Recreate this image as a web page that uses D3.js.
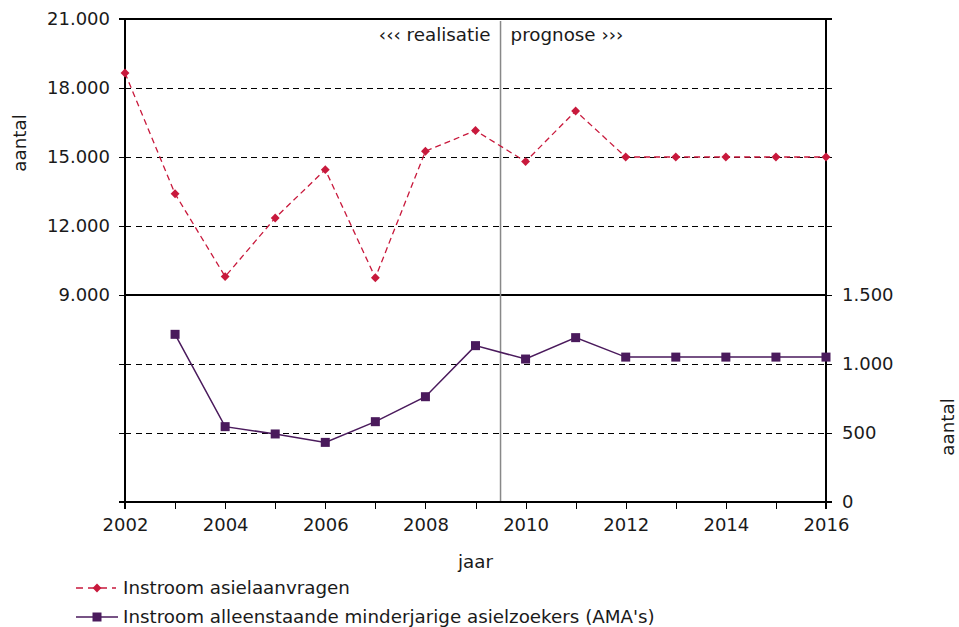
<!DOCTYPE html>
<html>
<head>
<meta charset="utf-8">
<script src="https://cdn.jsdelivr.net/npm/d3@7"></script>
<style>
  body { margin: 0; background: #fff; }
  svg text { font-family: "DejaVu Sans", Verdana, sans-serif; fill: #1a1a1a; }
</style>
</head>
<body>
<div id="chart"></div>
<script>
// data
const years = [2002, 2003, 2004, 2005, 2006, 2007, 2008, 2009, 2010, 2011, 2012, 2013, 2014, 2015, 2016];
const asielaanvragen = [18650, 13400, 9800, 12350, 14450, 9750, 15250, 16150, 14800, 17000, 15000, 15000, 15000, 15000, 15000];
const ama = [null, 1215, 546, 493, 432, 582, 763, 1133, 1036, 1191, 1050, 1050, 1050, 1050, 1050];
const leftTicks = [0, 3000, 6000, 9000, 12000, 15000, 18000, 21000];
const rightTicks = [0, 500, 1000, 1500, 2000, 2500, 3000, 3500];
const seriesNames = ["Instroom asielaanvragen", "Instroom alleenstaande minderjarige asielzoekers (AMA's)"];

const W = 959, H = 627;
const pLeft = 125, pRight = 826, pTop = 19, pBottom = 502;
const red = "#c8193c", purple = "#4a1a5c";
const txtSize = "18.3px";

const nl = d3.formatLocale({decimal: ",", thousands: ".", grouping: [3], currency: ["", ""]});
const fmt = nl.format(",");

const svg = d3.select("#chart").append("svg")
  .attr("width", W)
  .attr("height", H);

const x = d3.scaleLinear().domain([2002, 2016]).range([pLeft, pRight]);
const yL = d3.scaleLinear().domain([0, 21000]).range([pBottom, pTop]);
const yR = d3.scaleLinear().domain([0, 3500]).range([pBottom, pTop]);

// gridlines
const grid = svg.append("g").attr("shape-rendering", "crispEdges");
[12000, 15000, 18000].forEach(v => {
  grid.append("line")
    .attr("x1", pLeft).attr("x2", pRight)
    .attr("y1", yL(v)).attr("y2", yL(v))
    .attr("stroke", "#000").attr("stroke-dasharray", "6,4.5");
});
[500, 1000].forEach(v => {
  grid.append("line")
    .attr("x1", pLeft).attr("x2", pRight)
    .attr("y1", yR(v)).attr("y2", yR(v))
    .attr("stroke", "#000").attr("stroke-dasharray", "6,4.5");
});
// solid separator + top border
[9000, 21000].forEach(v => {
  grid.append("line")
    .attr("x1", pLeft).attr("x2", pRight)
    .attr("y1", yL(v)).attr("y2", yL(v))
    .attr("stroke", "#000").attr("stroke-width", 1.5);
});

// realisatie / prognose divider
svg.append("line")
  .attr("x1", x(2009.5)).attr("x2", x(2009.5))
  .attr("y1", pTop + 2).attr("y2", pBottom)
  .attr("stroke", "#888").attr("stroke-width", 1.5);

svg.append("text")
  .attr("x", x(2009.5) - 10).attr("y", 41)
  .attr("text-anchor", "end")
  .style("font-size", txtSize)
  .text("‹‹‹ realisatie");
svg.append("text")
  .attr("x", x(2009.5) + 10).attr("y", 41)
  .style("font-size", txtSize)
  .text("prognose ›››");

// axes
const axL = svg.append("g")
  .attr("transform", `translate(${pLeft},0)`)
  .call(d3.axisLeft(yL).tickValues(leftTicks).tickSize(6).tickPadding(9)
    .tickFormat(d => d >= 9000 ? fmt(d) : ""));
const axR = svg.append("g")
  .attr("transform", `translate(${pRight},0)`)
  .call(d3.axisRight(yR).tickValues(rightTicks).tickSize(6).tickPadding(10)
    .tickFormat(d => d <= 1500 ? fmt(d) : ""));
const axB = svg.append("g")
  .attr("transform", `translate(0,${pBottom})`)
  .call(d3.axisBottom(x).tickValues(years).tickSize(7).tickPadding(9)
    .tickFormat(d => d % 2 === 0 ? d : ""));

[axL, axR, axB].forEach(g => {
  g.select(".domain").attr("stroke", "#000").attr("stroke-width", 1.5)
    .attr("shape-rendering", "crispEdges");
  g.selectAll(".tick line").attr("stroke", "#000").attr("shape-rendering", "crispEdges");
  g.selectAll(".tick text").style("font-size", "18px").attr("fill", "#1a1a1a");
});
axL.selectAll(".domain").attr("d", `M-6,${pTop}H0V${pBottom}H-6`);
axR.selectAll(".domain").attr("d", `M6,${pTop}H0V${pBottom}H6`);
axB.selectAll(".domain").attr("d", `M${pLeft},7V0H${pRight}V7`);

// axis titles
svg.append("text")
  .attr("transform", `translate(26,143) rotate(-90)`)
  .attr("text-anchor", "middle")
  .style("font-size", txtSize)
  .text("aantal");
svg.append("text")
  .attr("transform", `translate(954,427) rotate(-90)`)
  .attr("text-anchor", "middle")
  .style("font-size", txtSize)
  .text("aantal");
svg.append("text")
  .attr("x", x(2009)).attr("y", 568)
  .attr("text-anchor", "middle")
  .style("font-size", txtSize)
  .text("jaar");

// series: asielaanvragen (left axis)
const redPts = years.map((yr, i) => ({yr, v: asielaanvragen[i]}));
svg.append("path")
  .datum(redPts)
  .attr("fill", "none")
  .attr("stroke", red)
  .attr("stroke-width", 1.3)
  .attr("stroke-dasharray", "6,4")
  .attr("d", d3.line().x(d => x(d.yr)).y(d => yL(d.v)));
svg.append("g").selectAll("path")
  .data(redPts)
  .join("path")
  .attr("transform", d => `translate(${x(d.yr)},${yL(d.v)})`)
  .attr("d", d3.symbol(d3.symbolDiamond2, 50))
  .attr("fill", red);

// series: AMA (right axis)
const purplePts = years.map((yr, i) => ({yr, v: ama[i]})).filter(d => d.v != null);
svg.append("path")
  .datum(purplePts)
  .attr("fill", "none")
  .attr("stroke", purple)
  .attr("stroke-width", 1.5)
  .attr("d", d3.line().x(d => x(d.yr)).y(d => yR(d.v)));
svg.append("g").selectAll("rect")
  .data(purplePts)
  .join("rect")
  .attr("x", d => x(d.yr) - 4.5)
  .attr("y", d => yR(d.v) - 4.5)
  .attr("width", 9).attr("height", 9)
  .attr("fill", purple);

// legend
const lg = svg.append("g");
lg.append("line").attr("x1", 76).attr("x2", 116).attr("y1", 588).attr("y2", 588)
  .attr("stroke", red).attr("stroke-width", 1.5).attr("stroke-dasharray", "7,5");
lg.append("path").attr("transform", "translate(97,588)")
  .attr("d", d3.symbol(d3.symbolDiamond2, 50)).attr("fill", red);
lg.append("text").attr("x", 123).attr("y", 594).style("font-size", txtSize).text(seriesNames[0]);

lg.append("line").attr("x1", 76).attr("x2", 118).attr("y1", 617).attr("y2", 617)
  .attr("stroke", purple).attr("stroke-width", 1.5);
lg.append("rect").attr("x", 92.5).attr("y", 612.5).attr("width", 9).attr("height", 9).attr("fill", purple);
lg.append("text").attr("x", 123).attr("y", 623).style("font-size", txtSize).text(seriesNames[1]);
</script>
</body>
</html>
